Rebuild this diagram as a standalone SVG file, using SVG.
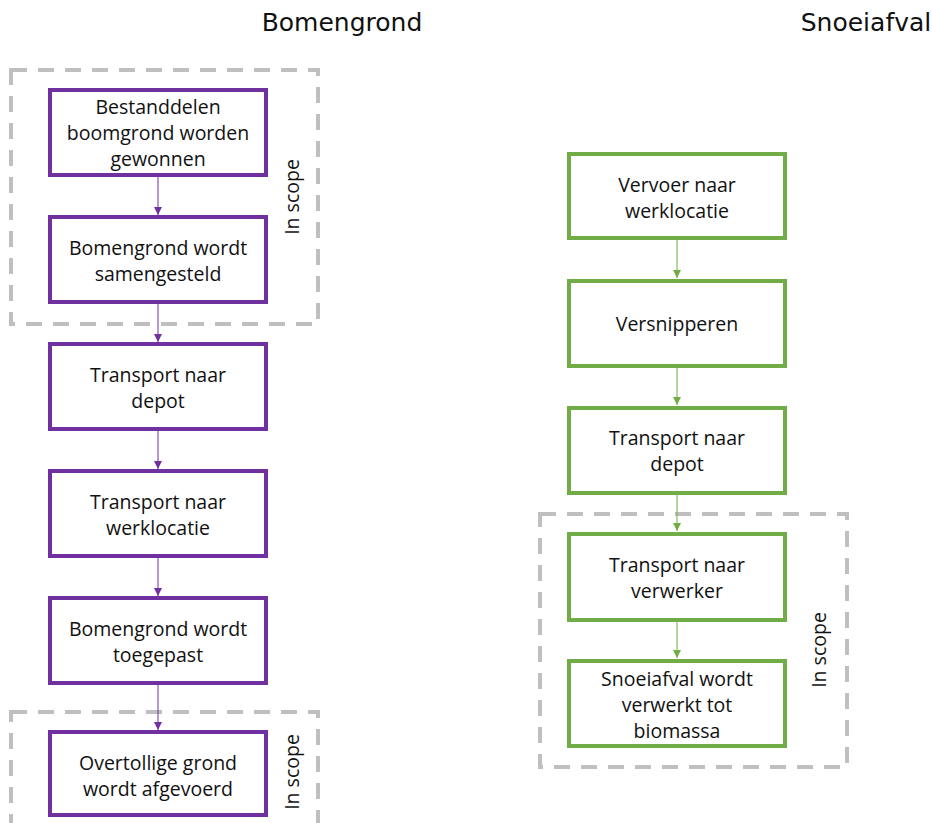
<svg xmlns="http://www.w3.org/2000/svg" width="932" height="823" viewBox="0 0 932 823">
<defs>
<style>
.bg{fill:#fff}
.p{fill:#fff;stroke:#7030A0;stroke-width:4}
.g{fill:#fff;stroke:#70AD47;stroke-width:4}
.scope{fill:none;stroke:#BFBFBF;stroke-width:4;stroke-dasharray:16 11}
.t{font-family:"Open Sans","Liberation Sans",sans-serif;font-size:19.5px;fill:#111;text-anchor:middle}
.h{font-family:"DejaVu Sans","Liberation Sans",sans-serif;font-size:25px;fill:#111;text-anchor:middle}
.cp{stroke:#7030A0;stroke-width:1;fill:none}
.cg{stroke:#70AD47;stroke-width:1;fill:none}
</style>
<marker id="ap" viewBox="0 0 10 10" refX="10" refY="5" markerWidth="8" markerHeight="8" markerUnits="userSpaceOnUse" orient="auto"><path d="M0,0L10,5L0,10z" fill="#7030A0"/></marker>
<marker id="ag" viewBox="0 0 10 10" refX="10" refY="5" markerWidth="8" markerHeight="8" markerUnits="userSpaceOnUse" orient="auto"><path d="M0,0L10,5L0,10z" fill="#70AD47"/></marker>
</defs>
<rect class="bg" x="0" y="0" width="932" height="823"/>
<text class="h" x="342" y="31">Bomengrond</text>
<text class="h" x="866" y="31">Snoeiafval</text>

<g id="scope-left-1"><rect class="scope" x="11" y="70" width="307" height="254"/><text class="t" transform="translate(299,197) rotate(-90)">In scope</text></g>
<g id="scope-left-2"><rect class="scope" x="11" y="712" width="307" height="130"/><text class="t" transform="translate(299,772) rotate(-90)">In scope</text></g>
<g id="scope-right"><rect class="scope" x="540" y="514" width="307" height="253"/><text class="t" transform="translate(826,650) rotate(-90)">In scope</text></g>

<g id="connectors">
<line class="cp" x1="158" y1="175" x2="158" y2="215" marker-end="url(#ap)"/>
<line class="cp" x1="158" y1="302" x2="158" y2="342" marker-end="url(#ap)"/>
<line class="cp" x1="158" y1="429" x2="158" y2="469" marker-end="url(#ap)"/>
<line class="cp" x1="158" y1="556" x2="158" y2="596" marker-end="url(#ap)"/>
<line class="cp" x1="158" y1="683" x2="158" y2="730" marker-end="url(#ap)"/>
<line class="cg" x1="677" y1="238" x2="677" y2="278" marker-end="url(#ag)"/>
<line class="cg" x1="677" y1="366" x2="677" y2="405" marker-end="url(#ag)"/>
<line class="cg" x1="677" y1="493" x2="677" y2="531" marker-end="url(#ag)"/>
<line class="cg" x1="677" y1="620" x2="677" y2="658" marker-end="url(#ag)"/>
</g>

<g id="b1"><rect class="p" x="50" y="90" width="216" height="85"/><text class="t"><tspan x="158" y="114">Bestanddelen</tspan><tspan x="158" y="140">boomgrond worden</tspan><tspan x="158" y="166">gewonnen</tspan></text></g>
<g id="b2"><rect class="p" x="50" y="217" width="216" height="85"/><text class="t"><tspan x="158" y="255">Bomengrond wordt</tspan><tspan x="158" y="281">samengesteld</tspan></text></g>
<g id="b3"><rect class="p" x="50" y="344" width="216" height="85"/><text class="t"><tspan x="158" y="382">Transport naar</tspan><tspan x="158" y="408">depot</tspan></text></g>
<g id="b4"><rect class="p" x="50" y="471" width="216" height="85"/><text class="t"><tspan x="158" y="509">Transport naar</tspan><tspan x="158" y="535">werklocatie</tspan></text></g>
<g id="b5"><rect class="p" x="50" y="598" width="216" height="85"/><text class="t"><tspan x="158" y="636">Bomengrond wordt</tspan><tspan x="158" y="662">toegepast</tspan></text></g>
<g id="b6"><rect class="p" x="50" y="732" width="216" height="83"/><text class="t"><tspan x="158" y="770">Overtollige grond</tspan><tspan x="158" y="796">wordt afgevoerd</tspan></text></g>

<g id="g1"><rect class="g" x="569" y="154" width="216" height="84"/><text class="t"><tspan x="677" y="192">Vervoer naar</tspan><tspan x="677" y="218">werklocatie</tspan></text></g>
<g id="g2"><rect class="g" x="569" y="281" width="216" height="85"/><text class="t"><tspan x="677" y="331">Versnipperen</tspan></text></g>
<g id="g3"><rect class="g" x="569" y="408" width="216" height="85"/><text class="t"><tspan x="677" y="445">Transport naar</tspan><tspan x="677" y="471">depot</tspan></text></g>
<g id="g4"><rect class="g" x="569" y="534" width="216" height="86"/><text class="t"><tspan x="677" y="572">Transport naar</tspan><tspan x="677" y="598">verwerker</tspan></text></g>
<g id="g5"><rect class="g" x="569" y="661" width="216" height="85"/><text class="t"><tspan x="677" y="686">Snoeiafval wordt</tspan><tspan x="677" y="712">verwerkt tot</tspan><tspan x="677" y="738">biomassa</tspan></text></g>
</svg>
